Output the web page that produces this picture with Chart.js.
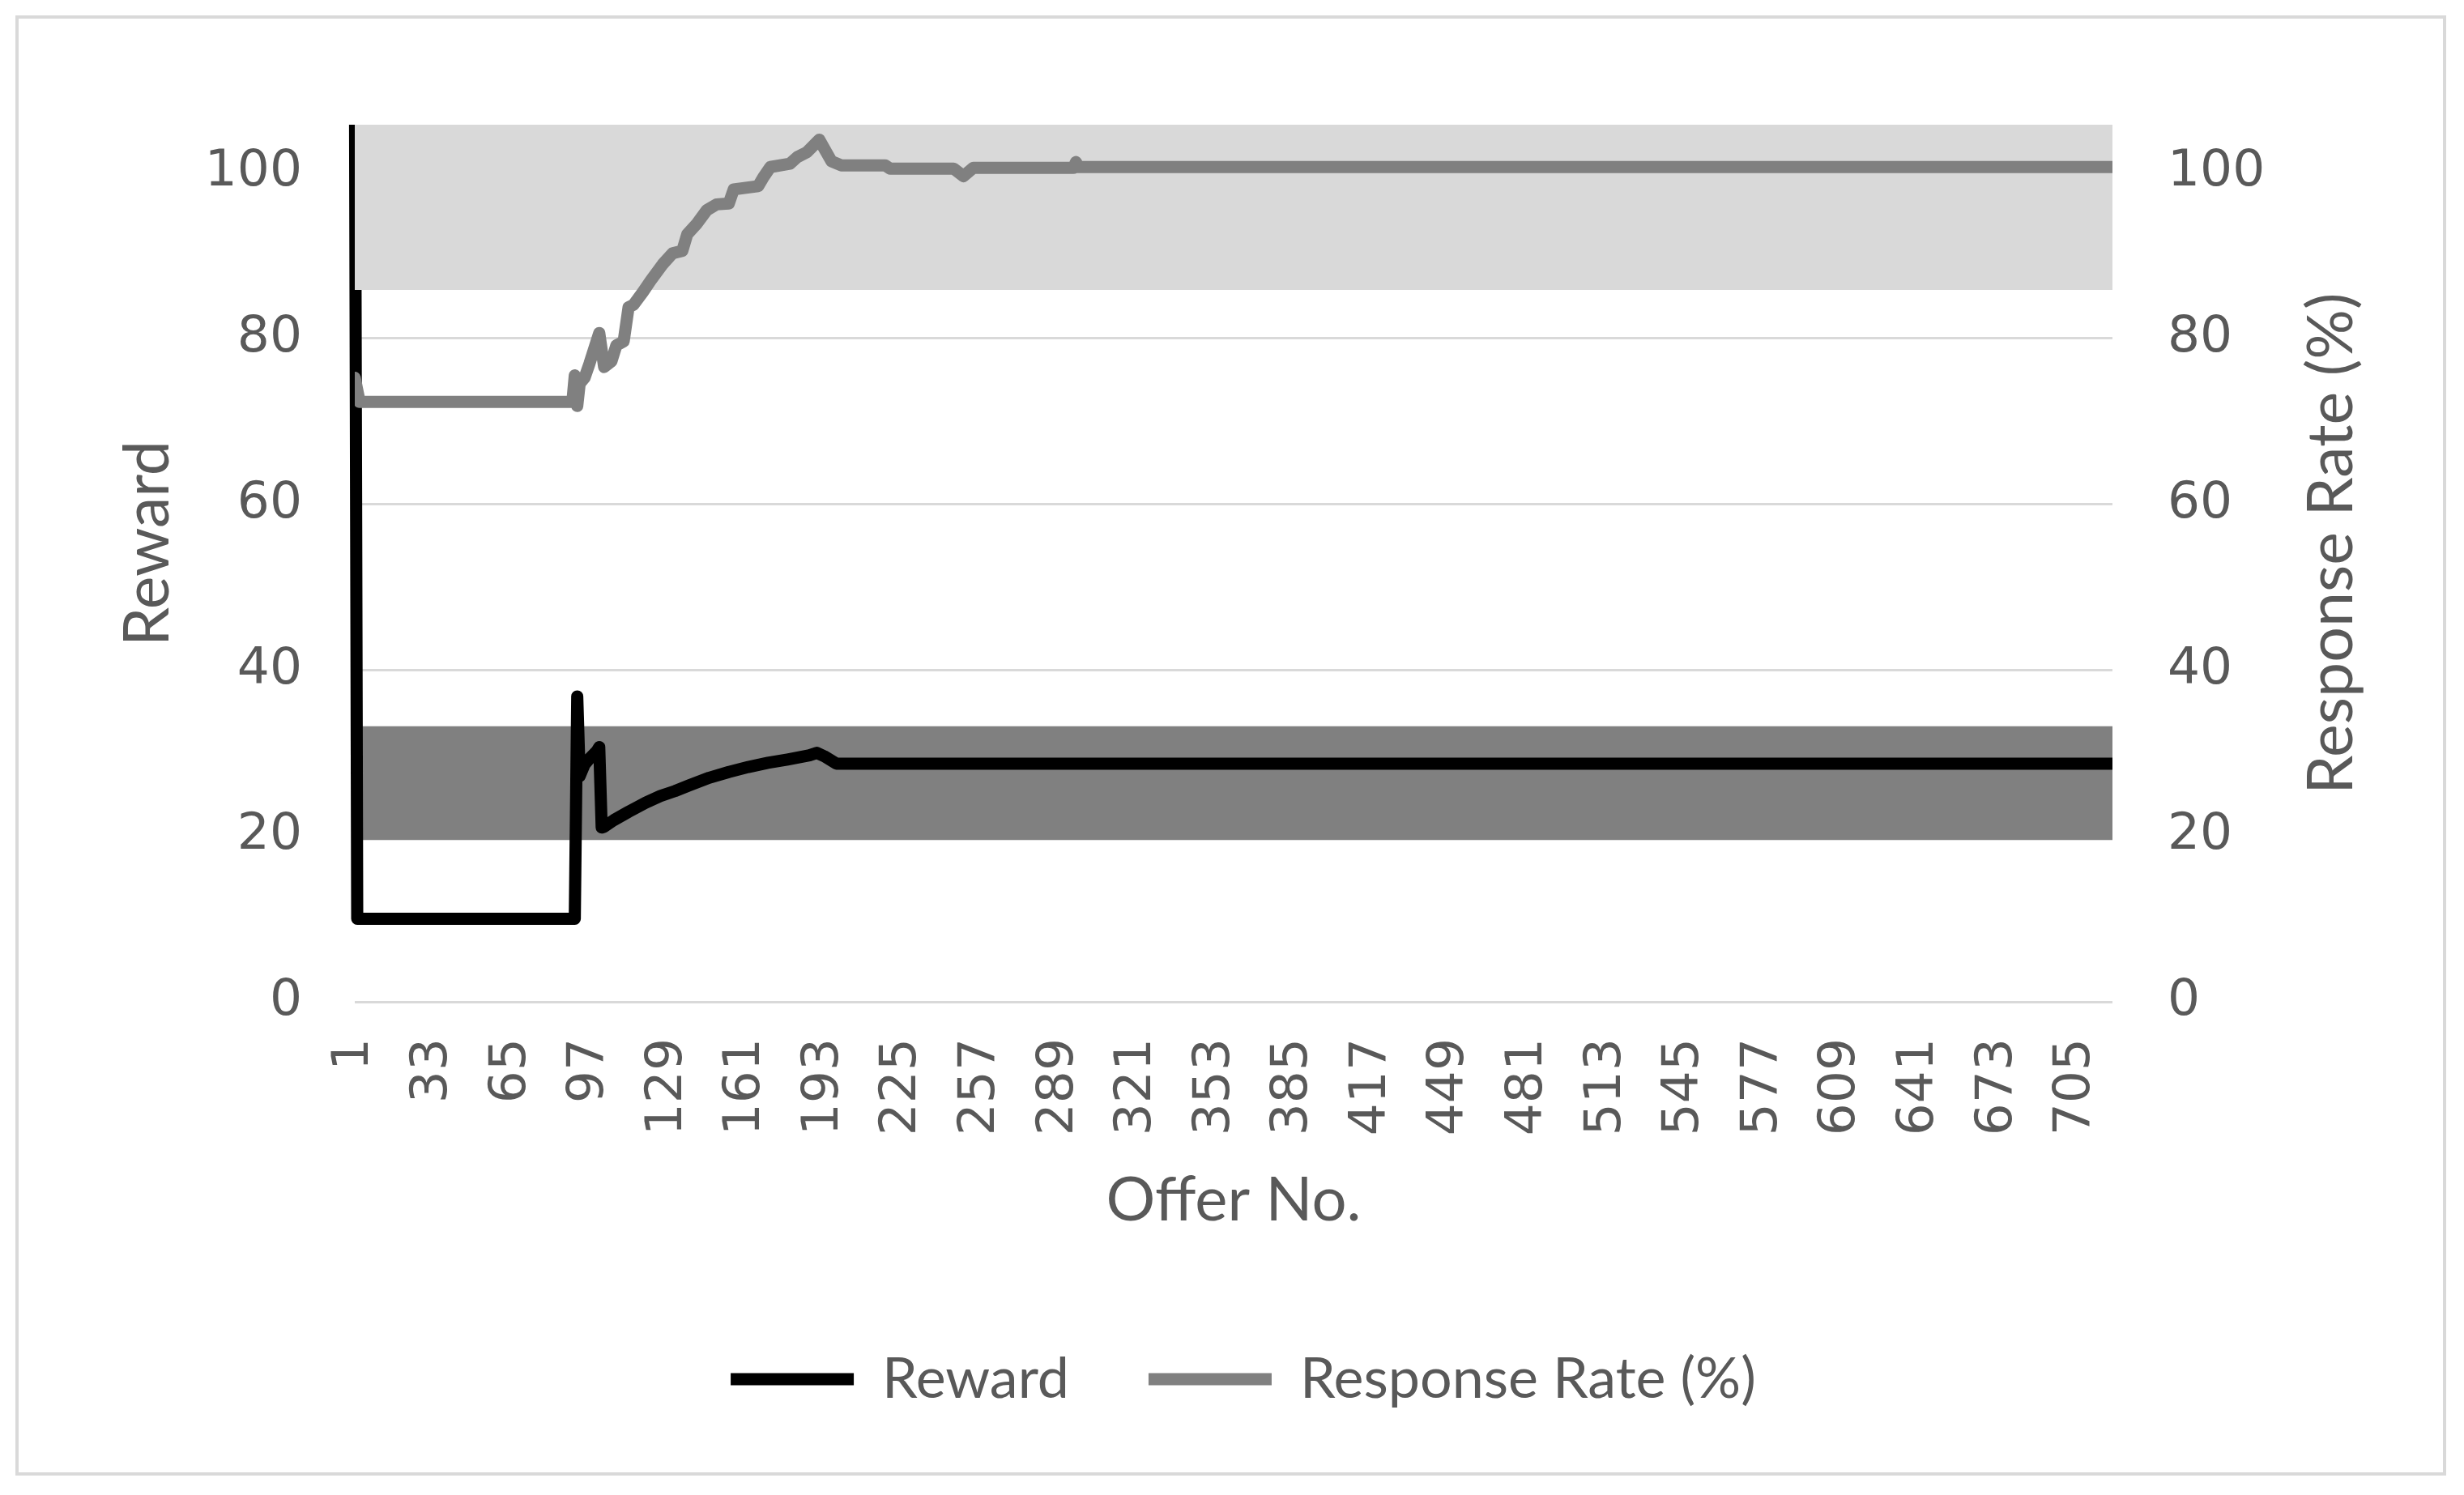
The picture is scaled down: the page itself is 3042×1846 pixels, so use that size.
<!DOCTYPE html>
<html><head><meta charset="utf-8">
<script src="https://cdn.jsdelivr.net/npm/chart.js@4.4.1/dist/chart.umd.min.js"></script>
<style>html,body{margin:0;padding:0;background:#fff;}canvas{display:block;}</style>
</head><body>
<canvas id="c" width="3042" height="1846"></canvas>
<script>
// ---- data ----
const offerTicks = [1,33,65,97,129,161,193,225,257,289,321,353,385,417,449,481,513,545,577,609,641,673,705];
const valueTicks = [0,20,40,60,80,100];
const lastOffer = 720;

// Reward (left axis); the first value lies above the top of the plot
const rewardOffers = [1, 2, 91, 92, 93, 95, 97, 100, 101, 102, 103, 107, 113, 120, 126, 132, 138, 146, 154, 162, 170, 178, 187, 190, 193, 198, 720];
const rewardValues = [120, 10, 10, 36.8, 27.2, 28.6, 29.3, 30.2, 30.7, 21.0, 21.1, 21.9, 22.9, 24.0, 24.8, 25.4, 26.1, 27.0, 27.7, 28.3, 28.8, 29.2, 29.7, 30.0, 29.6, 28.7, 28.7];

// Response Rate (%) (right axis)
const responseOffers = [1, 3, 90, 91, 92, 93, 95, 97, 101, 103, 106, 108, 111, 113, 115, 119, 122, 127, 131, 135, 137, 141, 145, 149, 154, 156, 166, 168, 171, 179, 182, 186, 191, 196, 200, 218, 220, 246, 250, 254, 295, 296, 297, 720];
const responseValues = [75.2, 72.3, 72.3, 75.5, 71.8, 74.5, 75.2, 76.9, 80.6, 76.5, 77.2, 79.1, 79.6, 83.7, 84.0, 85.6, 86.9, 88.9, 90.2, 90.5, 92.5, 93.8, 95.4, 96.1, 96.2, 97.9, 98.3, 99.3, 100.6, 101.0, 101.8, 102.4, 103.9, 101.3, 100.8, 100.8, 100.4, 100.4, 99.5, 100.5, 100.5, 101.2, 100.6, 100.6];

// shaded bands [lower, upper]
const bandOffers = [1, 720];
const rewardBand = [19.5, 33.2];
const responseBand = [85.8, 105.7];
const axisMax = 105.7;

const seriesNames = ['Reward', 'Response Rate (%)'];
const xTitle = 'Offer No.';
const leftTitle = 'Reward';
const rightTitle = 'Response Rate (%)';

// ---- drawing ----
const txt = '#595959';
const toXY = (xs, ys) => xs.map((x, i) => ({x: x, y: ys[i]}));
const tickFont = {family: 'DejaVu Sans', size: 63};
const titleFont = {family: 'Lato', size: 76};
const sideTitleSize = 77;
const legendFont = {family: 'Lato', size: 70};

const framePlugin = {
  id: 'frameAndTitles',
  beforeDraw(chart) {
    const ctx = chart.ctx;
    ctx.save();
    ctx.fillStyle = '#ffffff';
    ctx.fillRect(0, 0, chart.width, chart.height);
    ctx.strokeStyle = '#d9d9d9';
    ctx.lineWidth = 4;
    ctx.strokeRect(21, 21, 2997, 1799);
    ctx.restore();
  },
  afterDraw(chart) {
    const ctx = chart.ctx;
    ctx.save();
    ctx.fillStyle = txt;
    ctx.font = sideTitleSize + 'px Lato';
    ctx.textAlign = 'center';
    ctx.textBaseline = 'alphabetic';
    const cy = 671;
    ctx.save(); ctx.translate(208, cy); ctx.rotate(-Math.PI / 2); ctx.fillText(leftTitle, 0, 0); ctx.restore();
    ctx.save(); ctx.translate(2904, cy); ctx.rotate(-Math.PI / 2); ctx.fillText(rightTitle, 0, 0); ctx.restore();
    ctx.restore();
  }
};

function draw() {
  new Chart(document.getElementById('c'), {
    type: 'line',
    data: {
      datasets: [
        { label: seriesNames[0], data: toXY(rewardOffers, rewardValues), yAxisID: 'y',
          borderColor: '#000000', backgroundColor: '#000000', borderWidth: 15,
          borderJoinStyle: 'round', borderCapStyle: 'round', pointRadius: 0, pointHoverRadius: 0,
          tension: 0, fill: false, order: 2, clip: {left: 10, top: 0, right: 0, bottom: 10} },
        { label: seriesNames[1], data: toXY(responseOffers, responseValues), yAxisID: 'y1',
          borderColor: '#808080', backgroundColor: '#808080', borderWidth: 15,
          borderJoinStyle: 'round', borderCapStyle: 'round', pointRadius: 0, pointHoverRadius: 0,
          tension: 0, fill: false, order: 0 },
        { label: 'rewardBand', data: toXY(bandOffers, [rewardBand[1], rewardBand[1]]), yAxisID: 'y',
          fill: {value: rewardBand[0]}, backgroundColor: '#808080', borderColor: 'rgba(0,0,0,0)',
          borderWidth: 0, pointRadius: 0, pointHoverRadius: 0, order: 3 },
        { label: 'responseBand', data: toXY(bandOffers, [responseBand[1], responseBand[1]]), yAxisID: 'y1',
          fill: {value: responseBand[0]}, backgroundColor: '#d9d9d9', borderColor: 'rgba(0,0,0,0)',
          borderWidth: 0, pointRadius: 0, pointHoverRadius: 0, order: 1 }
      ]
    },
    options: {
      responsive: false, animation: false, devicePixelRatio: 1,
      events: [],
      layout: { padding: {left: 68, right: 40, top: 154, bottom: 98} },
      plugins: {
        tooltip: {enabled: false},
        legend: {
          position: 'bottom',
          labels: {
            filter: (item) => item.datasetIndex < 2,
            sort: (a, b) => a.datasetIndex - b.datasetIndex,
            usePointStyle: true, pointStyle: 'line', pointStyleWidth: 152,
            padding: 98, color: txt, font: legendFont
          }
        }
      },
      scales: {
        x: {
          type: 'linear', min: 1, max: lastOffer,
          afterBuildTicks(axis) { axis.ticks = offerTicks.map(v => ({value: v})); },
          ticks: { autoSkip: false, minRotation: 90, maxRotation: 90, padding: 45, color: txt, font: tickFont,
                   callback: (v) => String(v) },
          grid: { display: false, drawTicks: false },
          border: { display: false },
          title: { display: true, text: xTitle, color: txt, font: titleFont, padding: {top: 0, bottom: 42} },
          afterFit(s) { const lh = s.chart.legend ? s.chart.legend.height : 177; s.height = 1846 - 98 - lh - 1237; }
        },
        y: {
          position: 'left', min: 0, max: axisMax,
          afterBuildTicks(axis) { axis.ticks = valueTicks.map(v => ({value: v})); },
          ticks: { padding: 65, color: txt, font: tickFont },
          grid: { color: '#d9d9d9', lineWidth: 3, drawTicks: false },
          border: { display: false },
          afterFit(s) { s.width = 370; }
        },
        y1: {
          position: 'right', min: 0, max: axisMax,
          afterBuildTicks(axis) { axis.ticks = valueTicks.map(v => ({value: v})); },
          ticks: { padding: 68, color: txt, font: tickFont },
          grid: { display: false, drawTicks: false },
          border: { display: false },
          afterFit(s) { s.width = 394; }
        }
      }
    },
    plugins: [framePlugin]
  });
}

Promise.all([
  document.fonts.load('70px Lato'),
  document.fonts.load('63px "DejaVu Sans"')
]).then(draw, draw);
</script>
</body></html>
